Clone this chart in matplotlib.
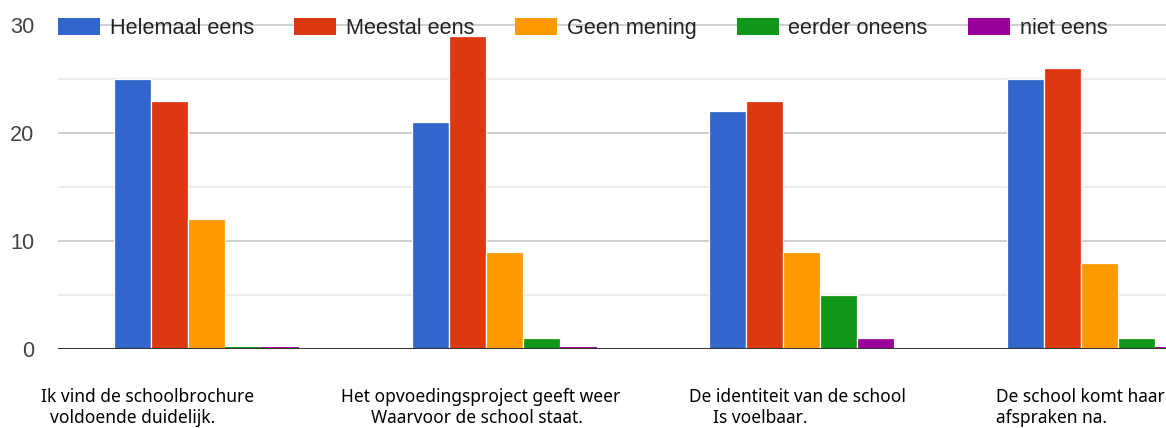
import matplotlib
matplotlib.use('Agg')
import matplotlib.pyplot as plt
import numpy as np

# ---------------- data ----------------
series_names = ["Helemaal eens", "Meestal eens", "Geen mening", "eerder oneens", "niet eens"]
helemaal_eens = [25, 21, 22, 25]
meestal_eens = [23, 29, 23, 26]
geen_mening = [12, 9, 9, 8]
eerder_oneens = [0, 1, 5, 1]
niet_eens = [0, 0, 1, 0]
category_lines = [
    ["Ik vind de schoolbrochure", "voldoende duidelijk."],
    ["Het opvoedingsproject geeft weer", "Waarvoor de school staat."],
    ["De identiteit van de school", "Is voelbaar."],
    ["De school komt haar", "afspraken na."],
]
yticks = [0, 10, 20, 30]
minor_yticks = [5, 15, 25]

# ---------------- style / layout ----------------
colors = ['#3366cc', '#dc3912', '#ff9900', '#109618', '#990099']
W, H = 1166, 428
fig = plt.figure(figsize=(W / 100, H / 100), dpi=100)

px_per_unit = 10.8
ymax = 30.3
ax_left_px, ax_bottom_px = 58, 349
ax_h_px = ymax * px_per_unit
ax = fig.add_axes([ax_left_px / W, 1 - ax_bottom_px / H, 1 - ax_left_px / W, ax_h_px / H])

band_px = 297.5
xmin = -0.5
xmax = xmin + (W - ax_left_px) / band_px
ax.set_xlim(xmin, xmax)
ax.set_ylim(0, ymax)

all_series = [helemaal_eens, meestal_eens, geen_mening, eerder_oneens, niet_eens]
x = np.arange(len(category_lines))
group_frac = 0.622
bw = group_frac / len(all_series)
handles = []
for i, (vals, c, name) in enumerate(zip(all_series, colors, series_names)):
    offs = (i - (len(all_series) - 1) / 2) * bw
    ecs = [c if v == 0 else 'white' for v in vals]
    lws = [2.8 if v == 0 else 0.9 for v in vals]
    ax.bar(x + offs, vals, width=bw, color=c, edgecolor=ecs, linewidth=lws,
           zorder=3, clip_on=True)
    handles.append(plt.Rectangle((0, 0), 1, 1, facecolor=c, edgecolor='none'))

ax.axhline(0, color='#333333', lw=1.4, zorder=4)

ax.set_yticks(yticks)
ax.set_yticks(minor_yticks, minor=True)
ax.set_xticks([])
ax.grid(which='major', axis='y', color='#cccccc', lw=1.3, zorder=0)
ax.grid(which='minor', axis='y', color='#ebebeb', lw=1.3, zorder=0)
ax.set_axisbelow(True)
ax.tick_params(axis='y', which='both', length=0, pad=17, labelsize=15.6,
               labelcolor='#444444')
for lab in ax.get_yticklabels():
    lab.set_family('Liberation Sans')
for s in ax.spines.values():
    s.set_visible(False)

leg = ax.legend(handles, series_names, loc='center left', bbox_to_anchor=(0, 29.7 / ymax),
                ncol=5, frameon=False, borderpad=0, borderaxespad=0,
                handlelength=1.94, handleheight=0.85, handletextpad=0.46,
                columnspacing=1.85,
                prop={'family': 'Liberation Sans', 'size': 15.6})
for t in leg.get_texts():
    t.set_color('#222222')
leg.set_zorder(6)

# ---------------- category labels ----------------
line1_x = [40.7, 341, 689, 996]
line2_x = [50, 371, 713, 996]
line1_target_w = [211, 277, 219, 168]
base1, base2 = 402, 423
label_font = 'Noto Sans'

renderer = fig.canvas.get_renderer()
ratios = []
for lines, tw in zip(category_lines, line1_target_w):
    t = fig.text(0, 0, lines[0], fontsize=10, family=label_font)
    w = t.get_window_extent(renderer).width
    ratios.append(tw / w)
    t.remove()
fs = 10 * float(np.mean(ratios))

for lines, x1, x2 in zip(category_lines, line1_x, line2_x):
    fig.text(x1 / W, 1 - base1 / H, lines[0], fontsize=fs, family=label_font,
             color='#000000', ha='left', va='baseline')
    fig.text(x2 / W, 1 - base2 / H, lines[1], fontsize=fs, family=label_font,
             color='#000000', ha='left', va='baseline')

fig.savefig('out.png', dpi=100)
